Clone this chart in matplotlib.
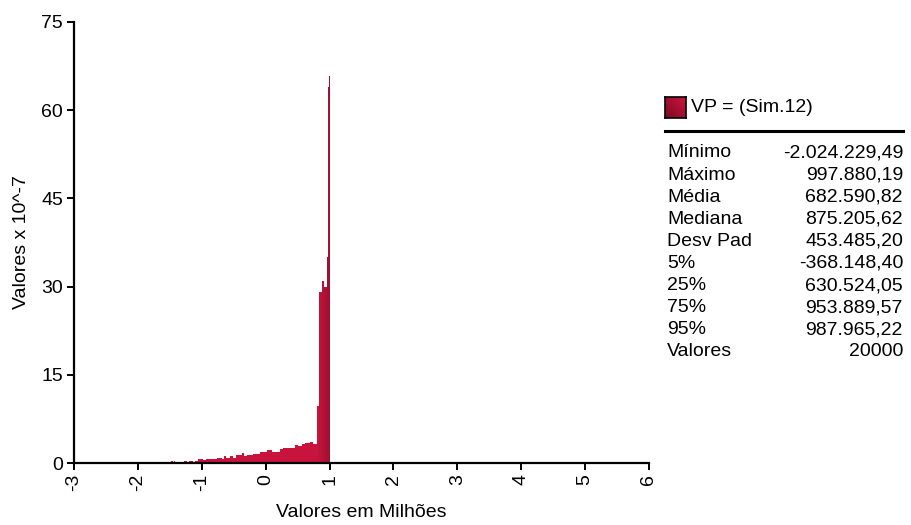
import numpy as np
import matplotlib
matplotlib.use("Agg")
import matplotlib.pyplot as plt
from matplotlib.colors import LinearSegmentedColormap, to_rgb

plt.rcParams['font.family'] = ['Liberation Sans', 'DejaVu Sans']

# ---- data (values in millions, density x 10^-7) ----
bin_edges = [-1.482, -1.451, -1.435, -1.420, -1.279, -1.232, -1.200, -1.138, -1.106,
             -1.060, -0.981, -0.934, -0.840, -0.762, -0.684, -0.653, -0.621, -0.559,
             -0.512, -0.465, -0.434, -0.371, -0.340, -0.293, -0.199, -0.136, -0.089,
             0.020, 0.099, 0.224, 0.270, 0.458, 0.505, 0.568, 0.615, 0.693, 0.740,
             0.803, 0.834, 0.877, 0.913, 0.955, 0.980, 0.990, 1.000]
densities = [0.34, 0.0, 0.34, 0.0, 0.34, 0.0, 0.34, 0.0,
             0.34, 0.68, 0.51, 0.63, 0.68, 0.85, 0.68, 1.13, 0.85,
             1.13, 0.85, 1.31, 1.41, 1.65, 1.19, 1.30, 1.58, 1.53,
             1.87, 2.16, 1.87, 2.38, 2.50, 3.00, 2.84, 3.28, 3.40, 3.62,
             3.28, 9.7, 29.0, 31.0, 30.0, 35.0, 64.0, 65.8]

x_ticks = [-3, -2, -1, 0, 1, 2, 3, 4, 5, 6]
y_ticks = [0, 15, 30, 45, 60, 75]

series_name = "VP = (Sim.12)"
stat_labels = ["Mínimo", "Máximo", "Média", "Mediana", "Desv Pad",
               "5%", "25%", "75%", "95%", "Valores"]
stat_values = ["-2.024.229,49", "997.880,19", "682.590,82", "875.205,62",
               "453.485,20", "-368.148,40", "630.524,05", "953.889,57",
               "987.965,22", "20000"]

# ---- figure ----
W, H = 911, 525
fig = plt.figure(figsize=(W / 100, H / 100), dpi=100)
ax = fig.add_axes([74 / W, (H - 463) / H, 575 / W, 441 / H])

edges = np.array(bin_edges)
widths = np.diff(edges)
centers = edges[:-1] + widths / 2
light = np.array(to_rgb('#c8143c'))
dark = np.array(to_rgb('#a00f31'))
cols = []
for c in centers:
    t = np.clip((c - 0.80) / 0.2, 0, 1)
    cols.append(tuple(light * (1 - t) + dark * t))
ax.bar(edges[:-1], densities, width=widths, align='edge', color=cols,
       linewidth=0)

ax.set_xlim(-3, 6)
ax.set_ylim(0, 75)
ax.set_xticks(x_ticks)
ax.set_xticklabels([str(v) for v in x_ticks], rotation=90)
ax.set_yticks(y_ticks)
for s in ['top', 'right']:
    ax.spines[s].set_visible(False)
for s in ['left', 'bottom']:
    ax.spines[s].set_linewidth(1.6)
ax.tick_params(axis='both', direction='out', length=5, width=1.4,
               labelsize=14, colors='black', pad=3)
ax.set_xlabel("Valores em Milhões", fontsize=14, labelpad=9)
ax.set_ylabel("Valores x 10^-7", fontsize=14, labelpad=8)

# ---- legend / statistics panel ----
cmap = LinearSegmentedColormap.from_list('g', ['#7a0a22', '#d0163e'])
lax = fig.add_axes([665 / W, (H - 118) / H, 21 / W, 21 / H])
grad = np.add.outer(np.linspace(0, 1, 20)[::-1], np.linspace(0, 1, 20)) / 2
lax.imshow(grad, cmap=cmap, aspect='auto', origin='upper')
lax.set_xticks([])
lax.set_yticks([])
for s in lax.spines.values():
    s.set_linewidth(1.2)
    s.set_color('black')

fig.text(691 / W, 1 - 108 / H, series_name, fontsize=14, va='center', ha='left')
fig.add_artist(plt.Line2D([665 / W, 903 / W], [1 - 131 / H, 1 - 131 / H],
                          color='black', linewidth=2.2))
for i, (lab, val) in enumerate(zip(stat_labels, stat_values)):
    y = 1 - (153 + 22.1 * i) / H
    fig.text(667 / W, y, lab, fontsize=14, va='center', ha='left')
    fig.text(903 / W, y, val, fontsize=14, va='center', ha='right')

fig.savefig("out.png", dpi=100)
